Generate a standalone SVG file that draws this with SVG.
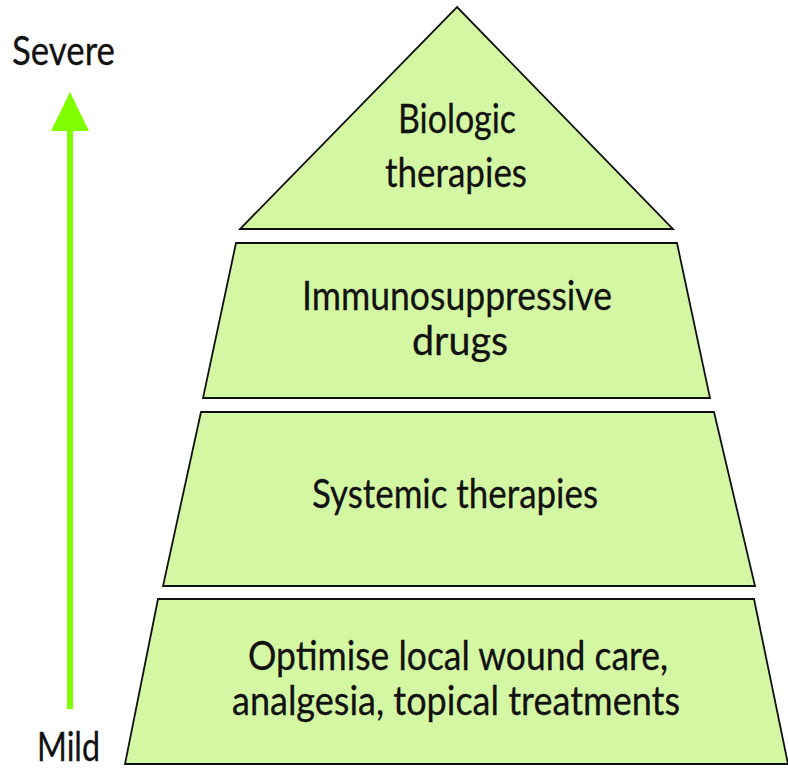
<svg xmlns="http://www.w3.org/2000/svg" width="788" height="771" viewBox="0 0 788 771">
<style>
.tier{fill:#D4F7A4;stroke:#111;stroke-width:1.8;stroke-linejoin:miter}
.lbl{font-family:Lato,"Open Sans","Liberation Sans",sans-serif;font-size:41px;fill:#111;stroke:#111;stroke-width:0.3}
.mid{text-anchor:middle}
</style>
<rect width="788" height="771" fill="#fff"/>
<g id="connectors">
<line x1="70" y1="128" x2="70" y2="709" stroke="#80FF00" stroke-width="6"/>
<polygon points="70,92 89,131 51,131" fill="#80FF00"/>
</g>
<g id="severe"><text class="lbl" x="12" y="65" textLength="103" lengthAdjust="spacingAndGlyphs">Severe</text></g>
<g id="mild"><text class="lbl" x="37" y="761" font-size="38" textLength="63" lengthAdjust="spacingAndGlyphs">Mild</text></g>
<g id="biologic">
<polygon class="tier" points="457,7 673,229 240,229"/>
<text class="lbl mid" x="457" y="133" textLength="118" lengthAdjust="spacingAndGlyphs">Biologic</text>
<text class="lbl mid" x="456" y="187" textLength="142" lengthAdjust="spacingAndGlyphs">therapies</text>
</g>
<g id="immuno">
<polygon class="tier" points="236,243 677,243 710,398 203,398"/>
<text class="lbl mid" x="457" y="310" textLength="310" lengthAdjust="spacingAndGlyphs">Immunosuppressive</text>
<text class="lbl mid" x="460" y="355" textLength="96" lengthAdjust="spacingAndGlyphs">drugs</text>
</g>
<g id="systemic">
<polygon class="tier" points="201,412 714,412 755,586 163,586"/>
<text class="lbl mid" x="455" y="508" textLength="286" lengthAdjust="spacingAndGlyphs">Systemic therapies</text>
</g>
<g id="local">
<polygon class="tier" points="158,599 754,599 788,764 125,764"/>
<text class="lbl mid" x="458" y="670" textLength="420" lengthAdjust="spacingAndGlyphs">Optimise local wound care,</text>
<text class="lbl mid" x="456" y="715" textLength="448" lengthAdjust="spacingAndGlyphs">analgesia, topical treatments</text>
</g>
</svg>
